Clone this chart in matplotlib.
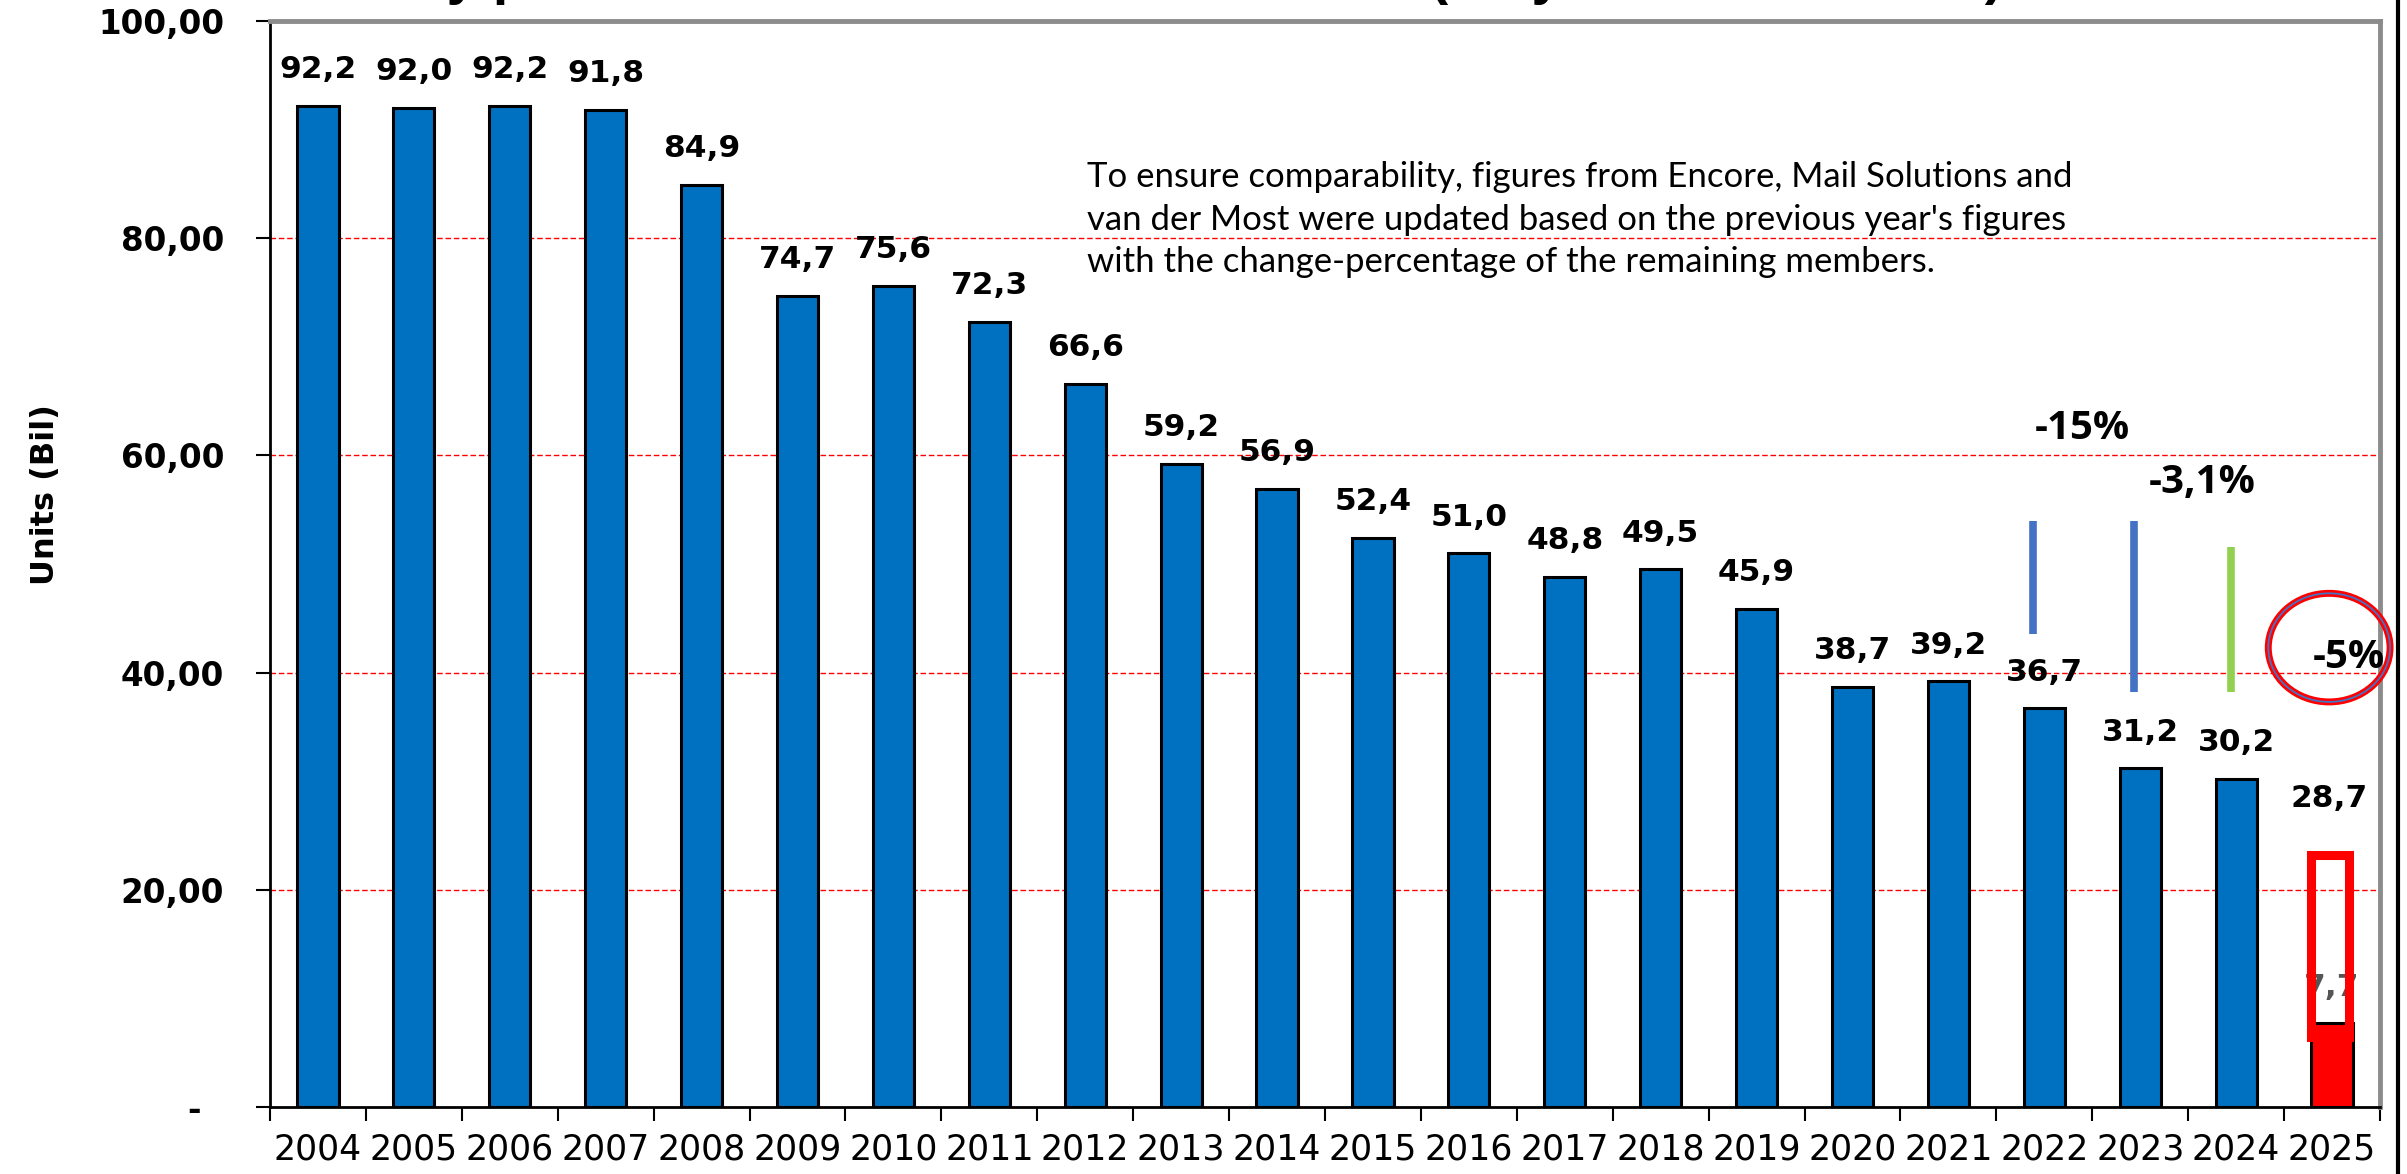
import matplotlib
matplotlib.use("Agg")
import matplotlib.pyplot as plt
from matplotlib.patches import Rectangle, Ellipse
from matplotlib.lines import Line2D

# ---------------- data ----------------
years = ["2004", "2005", "2006", "2007", "2008", "2009", "2010", "2011", "2012",
         "2013", "2014", "2015", "2016", "2017", "2018", "2019", "2020", "2021",
         "2022", "2023", "2024", "2025"]
values = [92.2, 92.0, 92.2, 91.8, 84.9, 74.7, 75.6, 72.3, 66.6, 59.2, 56.9, 52.4,
          51.0, 48.8, 49.5, 45.9, 38.7, 39.2, 36.7, 31.2, 30.2, 7.7]
value_labels = ["92,2", "92,0", "92,2", "91,8", "84,9", "74,7", "75,6", "72,3", "66,6",
                "59,2", "56,9", "52,4", "51,0", "48,8", "49,5", "45,9", "38,7", "39,2",
                "36,7", "31,2", "30,2", "7,7"]
bar_colors = ["#0070C0"] * 21 + ["#FF0000"]
label_colors = ["black"] * 21 + ["#555555"]
y_ticks = [0, 20, 40, 60, 80, 100]
y_tick_labels = ["-  ", "20,00", "40,00", "60,00", "80,00", "100,00"]

forecast_label = "28,7"
forecast_value = 28.4
pct_texts = ["-15%", "-3,1%", "-5%"]
pct_x = [18.4, 19.65, 21.18]
pct_y = [62.5, 57.5, 41.4]
marker_x = [17.88, 18.93, 19.95]
marker_y0 = [43.6, 38.2, 38.2]
marker_y1 = [54.0, 54.0, 51.6]
marker_colors = ["#4472C4", "#4472C4", "#92D050"]
note = ("To ensure comparability, figures from Encore, Mail Solutions and\n"
        "van der Most were updated based on the previous year's figures\n"
        "with the change-percentage of the remaining members.")
title = "Yearly production volumes in billion units (only FEPE members)"

# ---------------- figure ----------------
W, H = 2407, 1174
fig = plt.figure(figsize=(W / 100, H / 100), dpi=100)
ax = fig.add_axes([270 / W, 1 - 1107 / H, (2380 - 270) / W, (1107 - 21) / H])

x = list(range(len(years)))
ax.bar(x, values, width=0.43, color=bar_colors, edgecolor="black", linewidth=2.2, zorder=3)

for xi, v, lab, c in zip(x, values, value_labels, label_colors):
    ax.annotate(lab, (xi, v), xytext=(0, 26), textcoords="offset points",
                ha="center", va="center", fontsize=22.5, fontweight="bold",
                family="DejaVu Sans", color=c, zorder=4)

# gridlines
for t in y_ticks[1:-1]:
    ax.axhline(t, color="#FF0000", linestyle=(0, (4, 2)), linewidth=1.0, zorder=1)

ax.set_xlim(-0.5, len(years) - 0.5)
ax.set_ylim(0, 100)
ax.set_yticks(y_ticks)
ax.set_yticklabels(y_tick_labels, fontsize=23.5, fontweight="bold", family="DejaVu Sans")
ax.set_xticks(x)
ax.set_xticklabels(years, fontsize=25, family="DejaVu Sans")
ax.set_xticks([i - 0.5 for i in range(len(years) + 1)], minor=True)
ax.tick_params(axis="x", which="major", length=0, pad=18)
ax.tick_params(axis="x", which="minor", length=10, width=1.5, direction="out")
ax.tick_params(axis="y", which="major", length=10, width=1.5, direction="out", pad=23)

for s in ["left", "bottom"]:
    ax.spines[s].set_linewidth(2)
    ax.spines[s].set_color("black")
for s in ["top", "right"]:
    ax.spines[s].set_linewidth(3.5)
    ax.spines[s].set_color("#8C8C8C")

# forecast box and label for 2025
ax.add_patch(Rectangle((21 - 0.215, 6.4), 0.39, 16.8, fill=False, edgecolor="#FF0000",
                       linewidth=6.5, zorder=5))
ax.text(20.97, forecast_value, forecast_label, ha="center", va="center", fontsize=22.5,
        fontweight="bold", family="DejaVu Sans", zorder=6)

# vertical markers
for mx, a, b, c in zip(marker_x, marker_y0, marker_y1, marker_colors):
    ax.plot([mx, mx], [a, b], color=c, linewidth=5.5, solid_capstyle="butt", zorder=4)

# percentage texts
for t, px, py in zip(pct_texts, pct_x, pct_y):
    ax.text(px, py, t, ha="center", va="center", fontsize=29, fontweight="bold",
            family=["Open Sans", "DejaVu Sans"], zorder=6, clip_on=False)

# ellipse around -5%
ax.add_patch(Ellipse((20.97, 42.3), 1.27, 10.0, fill=False, edgecolor="#FF0000",
                     linewidth=5, zorder=6, clip_on=False))
ax.add_patch(Ellipse((20.97, 42.3), 1.27, 10.0, fill=False, edgecolor="#4472C4",
                     linewidth=1.3, zorder=7, clip_on=False))

# note
ax.text(0.387, 0.817, note, transform=ax.transAxes, ha="left", va="center",
        fontsize=25, family="Lato", linespacing=1.4, zorder=6)

# y label
fig.text(46 / W, 1 - 495 / H, "Units (Bil)", rotation=90, ha="center", va="center",
         fontsize=23, fontweight="bold", family="DejaVu Sans")

# title (cut off at the top of the picture, as in the original)
fig.text(1159 / W, 1 + 7 / H, title, ha="center", va="baseline", fontsize=40,
         fontweight="bold", family="Liberation Sans")

# right frame line
fig.add_artist(Line2D([2398 / W, 2398 / W], [0, 1], color="black", linewidth=3,
                      transform=fig.transFigure))

fig.savefig("out.png", dpi=100)
